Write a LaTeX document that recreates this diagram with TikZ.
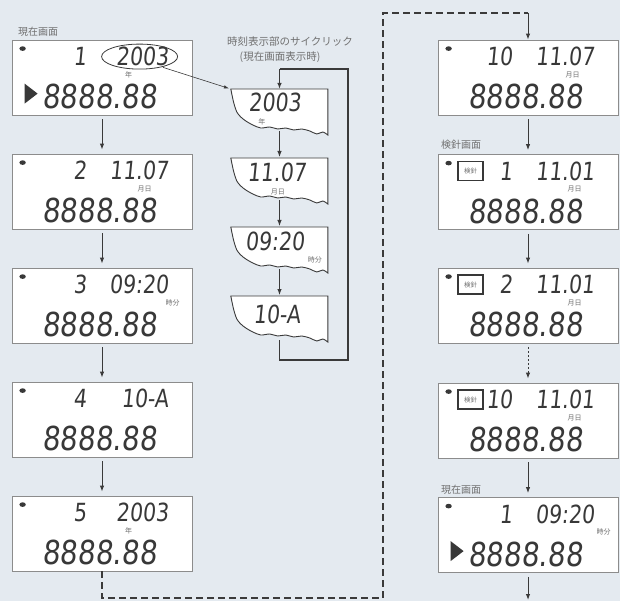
\documentclass[tikz,border=0pt]{standalone}
\usepackage{fontspec}
\usepackage{graphicx}
\usetikzlibrary{arrows.meta,shapes.geometric}
\newfontfamily\jp{Noto Sans CJK JP}
\newfontfamily\lcdfont[FakeSlant=0.12]{DejaVu Sans}
\definecolor{bgc}{HTML}{E4EAF0}
\definecolor{lcdc}{HTML}{383838}
\definecolor{edgec}{HTML}{8C8C8C}
\definecolor{txtc}{HTML}{707070}
\definecolor{linec}{HTML}{3A3A3A}
\newcommand\lcdT[1]{\scalebox{0.82}[1]{\fontsize{25}{25}\selectfont\lcdfont #1}}
\newcommand\lcdB[1]{\scalebox{0.84}[1]{\fontsize{33}{33}\selectfont\lcdfont #1}}
% #1 name, #2 cx, #3 cy, #4 index, #5 value, #6 unit, #7 unit x, #8 extras
\newcommand\LCDpanel[8]{%
  \node[lcdbox] (#1) at (#2,#3) {};
  \begin{scope}[shift={(#1.north west)}]
    \fill[lcdc] (11,9) ellipse [x radius=3.2pt, y radius=2.3pt];
    \node[digit,anchor=east] (#1i) at (75,17) {\lcdT{#4}};
    \node[digit,anchor=east] (#1v) at (157,17) {\lcdT{#5}};
    \node[unitlab] (#1u) at (#7,35) {#6};
    \node[digit] (#1m) at (88,57) {\lcdB{8888.88}};
    #8
  \end{scope}}
% #1 name, #2 ytop, #3 value, #4 val x, #5 val y, #6 unit, #7 unit pos
\newcommand\CYCpanel[7]{%
  \node[cbox] (#1) at (279.5,#2) {};
  \begin{scope}[shift={(#1.north west)}]
    \filldraw[torn] (0,0) -- (97,0) -- (97,46) -- plot[smooth] coordinates
      {(97,46) (92,43) (86,45) (79,42) (71,40) (63,41) (55,39) (47,40) (39,38) (30,39) (22,36) (15,32) (10,28) (6,23) (3,14) (1,5)} -- cycle;
    \node[digit] (#1v) at (#4,#5) {\lcdT{#3}};
    \node[unitlab] (#1u) at #7 {#6};
  \end{scope}}
\begin{document}
\begin{tikzpicture}[x=1pt,y=-1pt,
  lcdbox/.style={draw=edgec, line width=0.8pt, fill=white, minimum width=180pt, minimum height=75pt, inner sep=0pt},
  cbox/.style={minimum width=97pt, minimum height=44pt, inner sep=0pt, anchor=north},
  torn/.style={draw=linec, line width=0.9pt, fill=white},
  digit/.style={inner sep=0pt, text=lcdc},
  unitlab/.style={inner sep=0pt, text=txtc, font=\jp\fontsize{7}{7}\selectfont},
  scrlab/.style={inner sep=0pt, text=txtc, font=\jp\fontsize{10}{10}\selectfont},
  ttl/.style={inner sep=0pt, text=txtc, font=\jp\fontsize{10.5}{10.5}\selectfont},
  kenshin/.style={draw=lcdc, line width=1.4pt, minimum width=25pt, minimum height=19pt, inner sep=0pt, text=txtc, font=\jp\fontsize{6.5}{6.5}\selectfont},
  arr/.style={draw=linec, line width=1pt, -{Latex[length=6pt,width=4.5pt]}},
  thinarr/.style={draw=linec, line width=0.6pt, -{Latex[length=5pt,width=3.5pt]}},
  dashln/.style={draw=linec, line width=1.1pt, dash pattern=on 7pt off 4pt}]
\useasboundingbox (0,0) rectangle (620,601);
\fill[bgc] (0,0) rectangle (620,601);

% left column
\LCDpanel{b1}{102}{77.5}{1}{2003}{年}{117}{%
  \fill[lcdc] (13,44) -- (26,54) -- (13,64) -- cycle;
  \node[draw=linec, ellipse, line width=0.8pt, minimum width=76pt, minimum height=25pt, inner sep=0pt] (ell) at (128,17) {};}
\LCDpanel{b2}{102}{191.5}{2}{11.07}{月日}{133}{}
\LCDpanel{b3}{102}{305.5}{3}{09:20}{時分}{161}{}
\LCDpanel{b4}{102}{419.5}{4}{10-A}{}{0}{}
\LCDpanel{b5}{102}{533.5}{5}{2003}{年}{117}{}
\node[scrlab, anchor=west] (lab1) at (18,32) {現在画面};

% right column
\LCDpanel{r1}{528}{77.5}{10}{11.07}{月日}{135}{}
\LCDpanel{r2}{528}{192}{1}{11.01}{月日}{137}{\node[kenshin] (r2k) at (33,17) {検針};}
\LCDpanel{r3}{528}{305.5}{2}{11.01}{月日}{137}{\node[kenshin] (r3k) at (33,17) {検針};}
\LCDpanel{r4}{528}{420.5}{10}{11.01}{月日}{137}{\node[kenshin] (r4k) at (33,17) {検針};}
\LCDpanel{r5}{528}{535}{1}{09:20}{時分}{166}{%
  \fill[lcdc] (13,44) -- (26,54) -- (13,64) -- cycle;}
\node[scrlab] (lab2) at (461,145) {検針画面};
\node[scrlab] (lab3) at (461,490) {現在画面};

% cycle column
\node[ttl] (t1) at (290,42) {時刻表示部のサイクリック};
\node[ttl] (t2) at (280,57) {(現在画面表示時)};
\CYCpanel{c1}{89}{2003}{44}{13}{年}{(31,33)}
\CYCpanel{c2}{158}{11.07}{46}{14}{月日}{(47,34)}
\CYCpanel{c3}{227}{09:20}{44}{14}{時分}{(84,33)}
\CYCpanel{c4}{296}{10-A}{46}{18}{}{(0,0)}

% connectors
\foreach \a/\b in {b1/b2,b2/b3,b3/b4,b4/b5,r1/r2,r2/r3,r4/r5}
  \draw[arr, shorten <=4pt, shorten >=4pt] (\a) -- (\b);
\draw[arr, dash pattern=on 2pt off 2pt, shorten <=4pt, shorten >=4pt] (r3) -- (r4);
\coordinate (rend) at (528,600);
\draw[arr, shorten <=4pt] (r5) -- (rend);

\foreach \a/\b in {c1/c2,c2/c3,c3/c4}
  \draw[arr, shorten <=-2pt, shorten >=1pt] (\a.south) -- (\b.north);

\coordinate (lpA) at (348,360);
\coordinate (lpB) at (279.5,69);
\draw[linec, line width=1.4pt] (c4.south) |- (lpA) |- (lpB);
\draw[arr, line width=1.2pt] (lpB) -- (c1.north);

\draw[thinarr, shorten <=1pt, shorten >=2pt] (ell.-25) -- (c1.north west);

\coordinate (dA) at (383,598);
\coordinate (dB) at (528,13);
\draw[dashln] (b5.south) |- (dA) |- (dB);
\draw[arr] (dB) -- (r1.north);
\end{tikzpicture}
\end{document}
